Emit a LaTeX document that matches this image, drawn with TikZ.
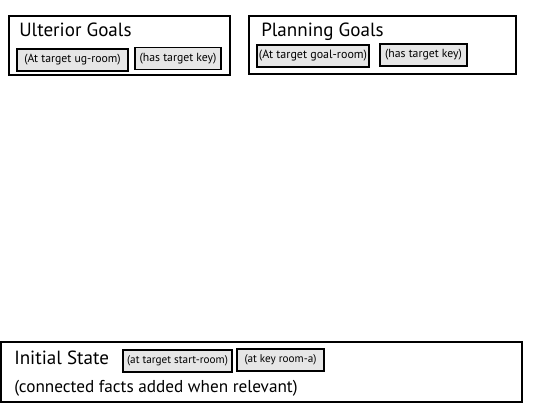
\documentclass[tikz,border=0pt]{standalone}
\usepackage{fontspec}
\setmainfont{PT Sans}
\usetikzlibrary{positioning}
\definecolor{factgray}{HTML}{E6E6E6}
\tikzset{
    panel/.style={draw,line width=1.5pt,inner sep=0pt},
    paneltitle/.style={anchor=base west,inner sep=0pt,font=\fontsize{14.3}{17}\selectfont},
    panelnote/.style={anchor=base west,inner sep=0pt,font=\fontsize{12.9}{15}\selectfont},
    fact/.style={draw,line width=1.4pt,fill=factgray,inner sep=0pt,minimum height=16.5pt,font=\fontsize{8.8}{10}\selectfont},
    smallfact/.style={fact,font=\fontsize{8.4}{10}\selectfont}
}
\begin{document}
\begin{tikzpicture}[x=0.75pt,y=-0.75pt]
\useasboundingbox (0,0) rectangle (536,416);
% ulterior goals
\node[panel,minimum width=165.75pt,minimum height=44.25pt] (ugpanel) at (119.5,45.5) {};
\node[paneltitle] (ugtitle) at (19,37) {Ulterior Goals};
\node[fact,minimum width=83.25pt] (ugroom) at (72.5,60) {(At target ug-room)};
\node[fact,minimum width=64.5pt] (ugkey) at (178,58.5) {(has target key)};
% planning goals
\node[panel,minimum width=200.25pt,minimum height=43.5pt] (pgpanel) at (382.5,45) {};
\node[paneltitle] (pgtitle) at (261,37) {Planning Goals};
\node[fact,minimum width=84pt,font=\fontsize{9}{10}\selectfont] (pgroom) at (313,56) {(At target goal-room)};
\node[fact,minimum width=65.25pt] (pgkey) at (423.5,55) {(has target key)};
% initial state
\node[panel,minimum width=390.75pt,minimum height=45pt] (ispanel) at (261.5,372) {};
\node[paneltitle] (istitle) at (14,365) {Initial State};
\node[smallfact,minimum width=81.75pt] (isstart) at (177.5,361) {(at target start-room)};
\node[smallfact,minimum width=65.25pt] (iskey) at (280.5,360) {(at key room-a)};
\node[panelnote] (isnote) at (14,393) {(connected facts added when relevant)};
\end{tikzpicture}
\end{document}
